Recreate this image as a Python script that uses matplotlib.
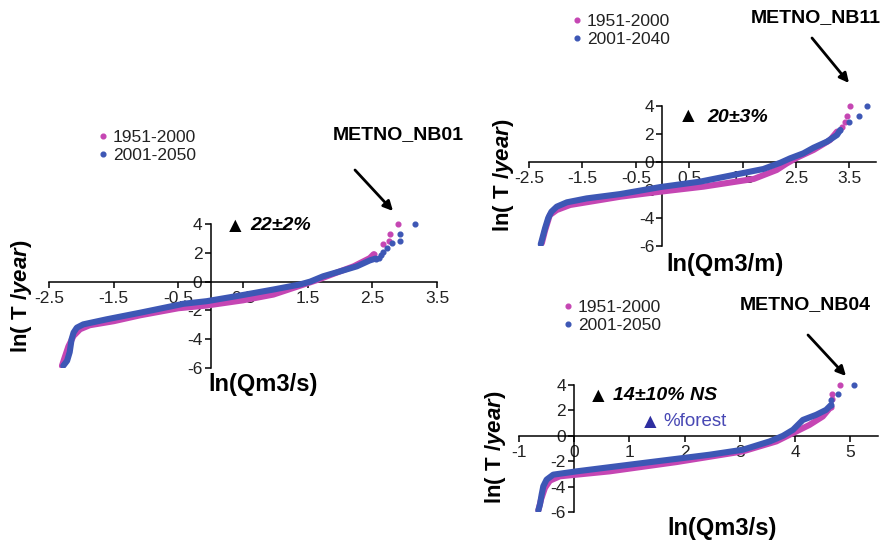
import matplotlib.pyplot as plt

plt.rcParams['font.family'] = ['Liberation Sans', 'DejaVu Sans']
plt.rcParams['axes.unicode_minus'] = False
plt.rcParams['mathtext.fontset'] = 'custom'
plt.rcParams['mathtext.it'] = 'Liberation Sans:bold:italic'
plt.rcParams['mathtext.rm'] = 'Liberation Sans:bold'

W, H = 884, 541
PINK = '#C546B3'
BLUE = '#3D57B5'

# METNO_NB01 : ln(Q) vs ln(T), the last points of each list are the sparse tail
NB01_X_HIST = [-2.30, -2.26, -2.20, -2.12, -2.02, -1.87, -1.50, -1.09, -0.50, -0.06,
               0.50, 0.97, 1.48, 1.64, 2.00, 2.21, 2.46, 2.52, 2.67, 2.76, 2.77, 2.89]
NB01_Y_HIST = [-5.85, -5.30, -4.50, -3.77, -3.31, -3.03, -2.75, -2.34, -1.85, -1.66,
               -1.30, -0.90, -0.14, 0.10, 0.71, 1.06, 1.63, 1.90, 2.60, 2.85, 3.29, 3.98]
NB01_X_FUT = [-2.28, -2.22, -2.18, -2.15, -2.12, -2.07, -1.97, -1.61, -1.09, -0.42,
              -0.06, 0.45, 0.97, 1.38, 1.54, 1.74, 2.00, 2.26, 2.46, 2.55,
              2.60, 2.63, 2.67, 2.72, 2.80, 2.93, 2.93, 3.16]
NB01_Y_FUT = [-5.85, -5.50, -4.90, -4.00, -3.54, -3.20, -2.97, -2.62, -2.16, -1.54,
              -1.36, -0.97, -0.55, -0.20, 0.00, 0.37, 0.71, 1.06, 1.47, 1.60,
              1.63, 1.86, 2.09, 2.32, 2.67, 2.83, 3.31, 4.00]
NB01_TAIL = (4, 8)

# METNO_NB11
NB11_X_HIST = [-2.26, -2.20, -2.11, -1.98, -1.73, -1.30, -0.79, -0.04, 0.77, 1.71,
               2.14, 2.33, 2.52, 2.83, 3.14, 3.27, 3.36, 3.42, 3.46, 3.52]
NB11_Y_HIST = [-5.80, -4.90, -3.79, -3.43, -3.07, -2.80, -2.48, -2.12, -1.76, -1.21,
               -0.57, -0.10, 0.31, 0.86, 1.57, 2.17, 2.52, 2.88, 3.29, 4.00]
NB11_X_FUT = [-2.28, -2.20, -2.14, -2.08, -1.98, -1.79, -1.42, -0.79, -0.04, 0.71,
              1.39, 1.89, 2.21, 2.39, 2.64, 2.83, 3.08, 3.27, 3.33, 3.49, 3.68, 3.83]
NB11_Y_FUT = [-5.88, -4.74, -4.00, -3.55, -3.19, -2.88, -2.60, -2.29, -1.79, -1.40,
              -0.88, -0.50, -0.05, 0.26, 0.62, 1.02, 1.45, 1.93, 2.29, 2.83, 3.29, 4.00]
NB11_TAIL = (4, 3)

# METNO_NB04
NB04_X_HIST = [-0.65, -0.60, -0.53, -0.44, -0.26, 0.64, 1.85, 3.05, 3.66, 3.90,
               4.26, 4.50, 4.65, 4.67, 4.67, 4.82]
NB04_Y_HIST = [-5.88, -5.00, -4.10, -3.53, -3.19, -2.80, -2.07, -1.23, -0.44, 0.08,
               0.86, 1.52, 2.30, 2.90, 3.27, 4.00]
NB04_X_FUT = [-0.65, -0.62, -0.59, -0.56, -0.50, -0.38, 0.04, 1.25, 2.45, 3.05,
              3.54, 3.78, 3.96, 4.14, 4.38, 4.56, 4.65, 4.65, 4.77, 5.07]
NB04_Y_FUT = [-5.88, -5.40, -4.63, -3.97, -3.45, -3.06, -2.80, -2.14, -1.49, -1.10,
              -0.44, 0.00, 0.47, 1.25, 1.65, 2.04, 2.43, 2.82, 3.27, 4.00]
NB04_TAIL = (3, 3)

Y_TICKS = [-6, -4, -2, 0, 2, 4]


def fxy(px, py):
    return px / W, 1 - py / H


def draw_series(ax, xs, ys, ntail, color):
    n = len(xs) - ntail
    ax.plot(xs[:n], ys[:n], color=color, lw=4.4, solid_capstyle='round',
            solid_joinstyle='round', zorder=3)
    h, = ax.plot(xs[n - 1:], ys[n - 1:], ls='none', marker='o', ms=3.4,
                 color=color, clip_on=False, zorder=3)
    return h


def make_panel(box, xlim, xticks, hist, fut, tails, labels, leg_pos):
    x0, x1, ytop, ybot = box
    ax = fig.add_axes([x0 / W, 1 - ybot / H, (x1 - x0) / W, (ybot - ytop) / H])
    ax.patch.set_alpha(0)
    for s in ['top', 'right']:
        ax.spines[s].set_visible(False)
    ax.spines['left'].set_position(('data', 0))
    ax.spines['bottom'].set_position(('data', 0))
    for s in ['left', 'bottom']:
        ax.spines[s].set_linewidth(1.1)
    ax.set_xlim(*xlim)
    ax.set_ylim(-6, 4)
    ax.set_xticks(xticks)
    ax.set_yticks(Y_TICKS)
    ax.tick_params(axis='x', direction='out', length=4, width=1.1, pad=2.5, labelsize=12.5,
                   labelcolor='#222222')
    ax.tick_params(axis='y', direction='out', length=4, width=1.1, pad=2, labelsize=12.5,
                   labelcolor='#222222')

    h1 = draw_series(ax, hist[0], hist[1], tails[0], PINK)
    h2 = draw_series(ax, fut[0], fut[1], tails[1], BLUE)

    ax.legend([h1, h2], labels, loc='upper left', bbox_to_anchor=fxy(*leg_pos),
              bbox_transform=fig.transFigure, frameon=False, fontsize=12.5,
              handlelength=0.5, handletextpad=0.3, borderpad=0, borderaxespad=0,
              labelspacing=0.15, labelcolor='#222222')
    return ax


fig = plt.figure(figsize=(W / 100, H / 100), dpi=100)

ax1 = make_panel((49, 437, 224, 368), (-2.5, 3.5), [-2.5, -1.5, -0.5, 0.5, 1.5, 2.5, 3.5],
                 (NB01_X_HIST, NB01_Y_HIST), (NB01_X_FUT, NB01_Y_FUT), NB01_TAIL,
                 ['1951-2000', '2001-2050'], (99, 130))
ax2 = make_panel((529, 876, 106, 246), (-2.5, 4.0), [-2.5, -1.5, -0.5, 0.5, 1.5, 2.5, 3.5],
                 (NB11_X_HIST, NB11_Y_HIST), (NB11_X_FUT, NB11_Y_FUT), NB11_TAIL,
                 ['1951-2000', '2001-2040'], (573, 14))
ax3 = make_panel((519, 878, 385, 512), (-1, 5.5), [-1, 0, 1, 2, 3, 4, 5],
                 (NB04_X_HIST, NB04_Y_HIST), (NB04_X_FUT, NB04_Y_FUT), NB04_TAIL,
                 ['1951-2000', '2001-2050'], (564, 300))

# axis titles
ylab = r'ln( T /$\mathit{year}$)'
for (px, py) in [(21, 296), (504, 175), (496, 447)]:
    fig.text(*fxy(px, py), ylab, rotation=90, ha='center', va='center',
             fontsize=16, fontweight='bold')
for (px, py, txt) in [(263, 385, 'ln(Qm3/s)'), (725, 265, 'ln(Qm3/m)'), (722, 529, 'ln(Qm3/s)')]:
    fig.text(*fxy(px, py), txt, ha='center', va='center', fontsize=17, fontweight='bold')

# station names and arrows
for (px, py, txt) in [(398, 135, 'METNO_NB01'), (816, 18, 'METNO_NB11'), (805, 305, 'METNO_NB04')]:
    fig.text(*fxy(px, py), txt, ha='center', va='center', fontsize=14, fontweight='bold')
for (sx, sy, ex, ey) in [(355, 170, 393, 211), (812, 38, 849, 83), (808, 335, 846, 376)]:
    ax1.annotate('', xy=fxy(ex, ey), xytext=fxy(sx, sy), xycoords='figure fraction',
                 textcoords='figure fraction',
                 arrowprops=dict(arrowstyle='-|>', color='black', lw=2,
                                 mutation_scale=14, shrinkA=0, shrinkB=0))

# trend annotations
for (tx, ty, px, txt) in [(235, 226, 250, '22±2%'), (688, 117, 707, '20±3%'),
                          (598, 396, 613, '14±10% NS')]:
    fig.text(*fxy(tx, ty), '▲', ha='center', va='center', fontsize=15, color='black')
    fig.text(*fxy(px, ty), txt, ha='left', va='center', fontsize=14,
             fontweight='bold', fontstyle='italic')
fig.text(*fxy(650, 422), '▲', ha='center', va='center', fontsize=15, color='#2E2EA0')
fig.text(*fxy(663, 422), '%forest', ha='left', va='center', fontsize=13.5, color='#4848B4')

fig.savefig('out.png', dpi=100)
